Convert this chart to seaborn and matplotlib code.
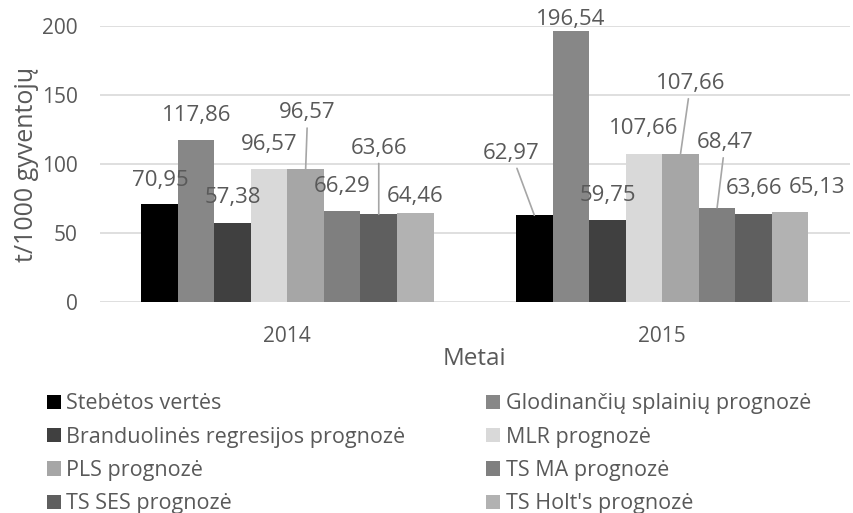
import pandas as pd
import seaborn as sns
import matplotlib.pyplot as plt

years = ['2014', '2015']
methods = ['Stebėtos vertės', 'Glodinančių splainių prognozė',
           'Branduolinės regresijos prognozė', 'MLR prognozė',
           'PLS prognozė', 'TS MA prognozė', 'TS SES prognozė',
           "TS Holt's prognozė"]
values_2014 = [70.95, 117.86, 57.38, 96.57, 96.57, 66.29, 63.66, 64.46]
values_2015 = [62.97, 196.54, 59.75, 107.66, 107.66, 68.47, 63.66, 65.13]
colors = ['#000000', '#878787', '#404040', '#d9d9d9',
          '#a6a6a6', '#7f7f7f', '#5f5f5f', '#b2b2b2']

# label offsets in pixels from bar top (dx, dy, leader line?)
label_pos = {
    ('2014', 0): (1, 24, False), ('2014', 1): (1, 24, False),
    ('2014', 2): (0, 25, False), ('2014', 3): (0, 24, False),
    ('2014', 4): (2, 56, True), ('2014', 5): (0, 24, False),
    ('2014', 6): (0, 66, True), ('2014', 7): (0, 17, False),
    ('2015', 0): (-23, 62, True), ('2015', 1): (0, 11, False),
    ('2015', 2): (0, 24, False), ('2015', 3): (0, 25, False),
    ('2015', 4): (10, 70, True), ('2015', 5): (8, 65, True),
    ('2015', 6): (0, 26, False), ('2015', 7): (27, 25, False),
}

df = pd.DataFrame({
    'Metai': [y for y in years for _ in methods],
    'method': methods * 2,
    'value': values_2014 + values_2015,
})

sns.set_style('white')
plt.rcParams['font.family'] = ['Open Sans', 'DejaVu Sans']
txt = '#595959'

fig = plt.figure(figsize=(8.54, 5.13), dpi=100)
ax = fig.add_axes([0.117, 0.411, 0.878, 0.538])
sns.barplot(data=df, x='Metai', y='value', hue='method', hue_order=methods,
            palette=colors, width=0.78, linewidth=0, saturation=1, ax=ax,
            legend=True, zorder=3)

ax.set_ylim(0, 200)
ax.set_yticks([0, 50, 100, 150, 200])
ax.grid(axis='y', color='#d9d9d9', lw=1.2, zorder=0)
for s in ax.spines.values():
    s.set_visible(False)
ax.tick_params(axis='both', length=0, colors=txt, labelsize=15)
ax.tick_params(axis='y', pad=16)
ax.tick_params(axis='x', pad=17)
ax.set_ylabel('t/1000 gyventojų', fontsize=18, color=txt, labelpad=2)
ax.set_xlabel('Metai', fontsize=17.5, color=txt, labelpad=0)

for i, cont in enumerate(ax.containers):
    for j, bar in enumerate(cont):
        dx, dy, leader = label_pos[(years[j], i)]
        x = bar.get_x() + bar.get_width() / 2
        h = bar.get_height()
        ap = dict(arrowstyle='-', color='#a6a6a6', lw=1.2, shrinkA=1, shrinkB=0) if leader else None
        ax.annotate(f'{h:.2f}'.replace('.', ','), xy=(x, h), xytext=(dx, dy),
                    textcoords='offset pixels', ha='center', va='center',
                    fontsize=16, color=txt, arrowprops=ap, zorder=5)

handles, labels = ax.get_legend_handles_labels()
ax.get_legend().remove()
order = [0, 2, 4, 6, 1, 3, 5, 7]
fig.legend([handles[k] for k in order], [labels[k] for k in order],
           loc='upper left', bbox_to_anchor=(0.055, 0.233), ncol=2,
           frameon=False, fontsize=15.5, labelcolor=txt,
           handlelength=0.65, handleheight=0.65, handletextpad=0.25,
           columnspacing=3.75, labelspacing=0.57, borderaxespad=0,
           borderpad=0)

fig.savefig('out.png', dpi=100)
